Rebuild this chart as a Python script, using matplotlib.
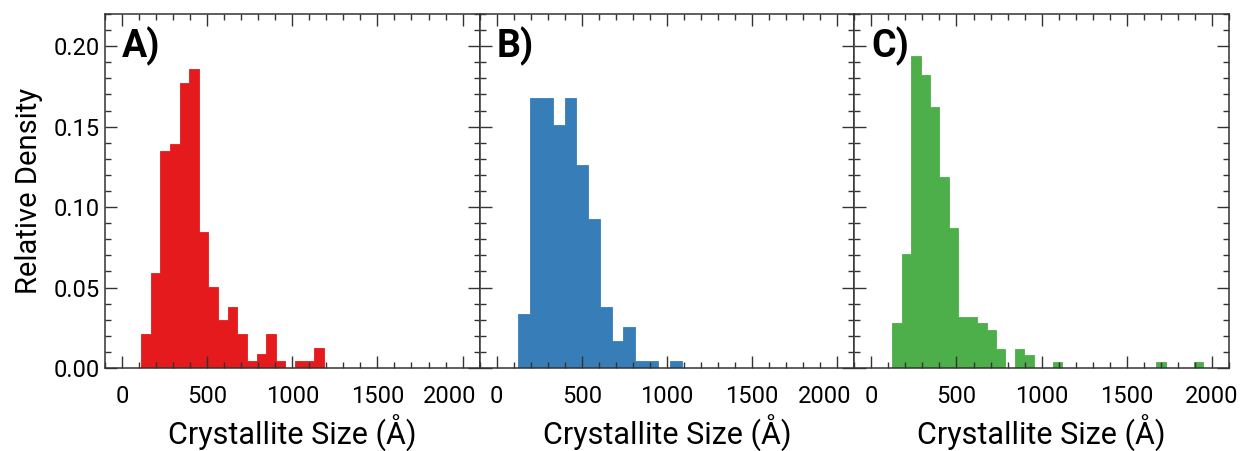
import numpy as np
import matplotlib.pyplot as plt
import matplotlib.transforms as mtransforms
from matplotlib.ticker import MultipleLocator, FormatStrFormatter

plt.rcParams['font.family'] = ['Roboto', 'DejaVu Sans']

# histogram data: bin range, counts per bin
a_range = (112, 1186)
a_counts = [5, 14, 32, 33, 42, 44, 20, 12, 7, 9, 5, 1, 2, 5, 1, 0, 1, 1, 3]

b_range = (125, 1087)
b_counts = [8, 40, 40, 36, 40, 30, 22, 9, 4, 6, 1, 1, 0, 1]

c_range = (123, 1950)
c_counts = [7, 18, 49, 46, 41, 30, 22, 8, 8, 7, 6, 3, 0, 3, 2,
            0, 0, 1, 0, 0, 0, 0, 0, 0, 0, 0, 0, 0, 1, 0, 0, 0, 1]

panels = ['A)', 'B)', 'C)']
colors = ['#e41a1c', '#377eb8', '#4daf4a']

fig, axes = plt.subplots(1, 3, figsize=(12.42, 4.51), dpi=100, sharey=True)
fig.subplots_adjust(left=0.0845, right=0.9895, top=0.969, bottom=0.184, wspace=0)

for ax, rng, counts, lab, col in zip(axes, [a_range, b_range, c_range],
                                     [a_counts, b_counts, c_counts], panels, colors):
    counts = np.array(counts, dtype=float)
    edges = np.linspace(rng[0], rng[1], len(counts) + 1)
    centers = 0.5 * (edges[:-1] + edges[1:])
    ax.hist(centers, bins=edges, weights=counts / counts.sum(),
            histtype='stepfilled', color=col, edgecolor=col, linewidth=0.6)
    ax.set_xlim(-100, 2100)
    ax.set_ylim(0, 0.22)
    ax.xaxis.set_major_locator(MultipleLocator(500))
    ax.xaxis.set_minor_locator(MultipleLocator(100))
    ax.yaxis.set_major_locator(MultipleLocator(0.05))
    ax.yaxis.set_minor_locator(MultipleLocator(0.01))
    ax.yaxis.set_major_formatter(FormatStrFormatter('%.2f'))
    ax.tick_params(which='both', direction='in', top=True, right=True,
                   color='#333333', width=1.0, labelsize=17)
    ax.tick_params(which='major', length=8.5)
    ax.tick_params(which='minor', length=4.5)
    ax.tick_params(axis='x', which='major', pad=12)
    ax.tick_params(axis='y', which='major', pad=4)
    for s in ax.spines.values():
        s.set_color('#333333')
        s.set_linewidth(1.1)
    ax.set_xlabel('Crystallite Size (Å)', fontsize=22, labelpad=5)
    ax.text(0.045, 0.965, lab, transform=ax.transAxes, fontsize=27,
            fontweight='bold', va='top', ha='left')

axes[0].set_ylabel('Relative Density', fontsize=21, labelpad=7)

# nudge the "2000" labels of the first two panels left, away from the next "0"
fig.canvas.draw()
shift = mtransforms.ScaledTranslation(-13 / 100, 0, fig.dpi_scale_trans)
for ax in axes[:2]:
    for tick in ax.xaxis.get_major_ticks():
        if tick.label1.get_text() == '2000':
            tick.label1.set_transform(tick.label1.get_transform() + shift)

plt.savefig('out.png', dpi=100)
